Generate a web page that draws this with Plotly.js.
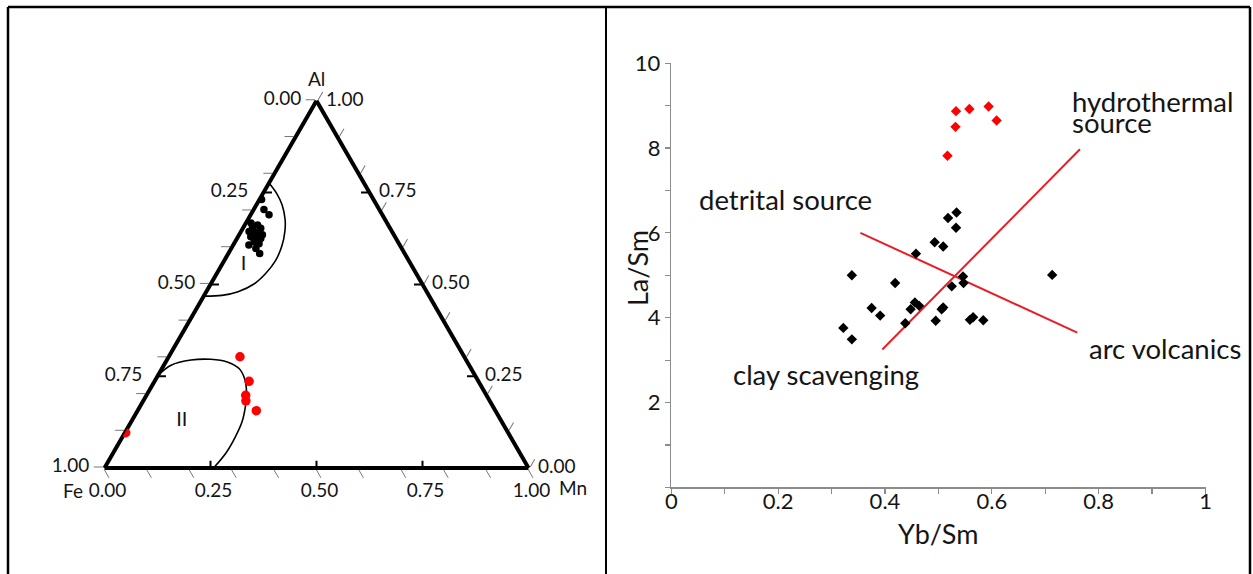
<!DOCTYPE html>
<html>
<head>
<meta charset="utf-8">
<script src="https://cdn.plot.ly/plotly-3.0.1.min.js"></script>
<style>
  html, body { margin: 0; padding: 0; background: #fff; }
  #chart { width: 1253px; height: 574px; }
</style>
</head>
<body>
<div id="chart"></div>
<script>
// ---------- Ternary Al–Fe–Mn (fractions; Fe = 1 - Al - Mn) ----------
const clusterAl = [0.731, 0.704, 0.690, 0.667, 0.658, 0.662, 0.653, 0.644, 0.644, 0.639,
                   0.635, 0.630, 0.625, 0.625, 0.616, 0.607, 0.611, 0.598, 0.584];
const clusterMn = [0.005, 0.024, 0.043, 0.012, 0.020, 0.030, 0.042, 0.019, 0.031, 0.045,
                   0.055, 0.030, 0.044, 0.056, 0.045, 0.037, 0.059, 0.058, 0.074];

const hydroTernAl = [0.303, 0.236, 0.198, 0.183, 0.156, 0.096];
const hydroTernMn = [0.168, 0.223, 0.234, 0.242, 0.280, 0.002];

// field boundaries I and II
const fieldIAl  = [0.776, 0.746, 0.716, 0.676, 0.645, 0.605, 0.564, 0.529, 0.501, 0.480, 0.470, 0.468];
const fieldIMn  = [0.000, 0.034, 0.061, 0.088, 0.103, 0.116, 0.121, 0.115, 0.102, 0.075, 0.042, 0.000];
const fieldIIAl = [0.252, 0.280, 0.294, 0.296, 0.289, 0.271, 0.243, 0.206, 0.169, 0.128, 0.087, 0.041, 0.000];
const fieldIIMn = [0.000, 0.017, 0.057, 0.103, 0.145, 0.182, 0.209, 0.232, 0.248, 0.261, 0.266, 0.266, 0.257];

const fieldNames   = ['I', 'II'];
const fieldNameAl  = [0.552, 0.127];
const fieldNameMn  = [0.052, 0.119];

const ternMinorTicks = [0, 0.1, 0.2, 0.3, 0.4, 0.5, 0.6, 0.7, 0.8, 0.9, 1];
const ternMajorTicks = [0, 0.25, 0.5, 0.75, 1];
const ternMajorText  = ['1.00', '0.75', '0.50', '0.25', '0.00'];
const ternInnerTicks = [0.25, 0.5, 0.75];
const alEdgeValues   = [0, 0.25, 0.5, 0.75, 1];

// ---------- Yb/Sm vs La/Sm ----------
const detritalYb = [0.338, 0.419, 0.322, 0.338, 0.375, 0.391, 0.438, 0.448, 0.456, 0.464,
                    0.458, 0.493, 0.509, 0.495, 0.506, 0.509, 0.518, 0.534, 0.533, 0.525,
                    0.546, 0.547, 0.559, 0.565, 0.584, 0.713];
const detritalLa = [5.00, 4.82, 3.76, 3.49, 4.23, 4.05, 3.87, 4.20, 4.36, 4.28,
                    5.51, 5.78, 5.68, 3.93, 4.20, 4.24, 6.35, 6.48, 6.12, 4.74,
                    4.97, 4.82, 3.95, 4.01, 3.94, 5.01];
const hydroYb = [0.533, 0.558, 0.594, 0.609, 0.532, 0.517];
const hydroLa = [8.87, 8.92, 8.98, 8.65, 8.50, 7.82];

const lineDetritalArcYb = [0.354, 0.760];
const lineDetritalArcLa = [6.00, 3.65];
const lineClayHydroYb   = [0.395, 0.765];
const lineClayHydroLa   = [3.25, 7.97];

const xTickVals = [0, 0.1, 0.2, 0.3, 0.4, 0.5, 0.6, 0.7, 0.8, 0.9, 1];
const xTickText = ['0', '', '0.2', '', '0.4', '', '0.6', '', '0.8', '', '1'];
const yTickVals = [0, 1, 2, 3, 4, 5, 6, 7, 8, 9, 10];
const yTickText = ['', '', '2', '', '4', '', '6', '', '8', '', '10'];

// ---------- helpers ----------
const W = 1253, H = 574;
const px = x => x / W;
const py = y => 1 - y / H;
const feOf = (al, mn) => al.map((a, i) => 1 - a - mn[i]);

const FONT = 'Lato, "Open Sans", sans-serif';
const INK = '#151515';
const RED = '#ec1c24';

// triangle placement (pixels): side length, centre x, base y
const side = 424, triH = side * Math.sqrt(3) / 2, cx = 316.5, baseY = 468;
const ternDomain = {
  x: [px(cx - side / 2), px(cx + side / 2)],
  y: [py(baseY), py(baseY - triH)]
};

// short inward ticks at the quarter marks of each edge
const inA = [], inB = [], inC = [];
const dIn = 0.02;
ternInnerTicks.forEach(v => {
  inA.push(1 - v, 1 - v, null); inB.push(v, v - dIn, null); inC.push(0, dIn, null);              // Fe edge
  inA.push(v, v, null);         inB.push(0, dIn, null);     inC.push(1 - v, 1 - v - dIn, null);  // Al edge
  inA.push(0, dIn, null);       inB.push(1 - v, 1 - v - dIn / 2, null); inC.push(v, v - dIn / 2, null); // Mn edge
});

const traces = [
  { type: 'scatterternary', subplot: 'ternary', mode: 'lines',
    a: inA, b: inB, c: inC, connectgaps: false,
    line: { color: '#000', width: 2 }, hoverinfo: 'skip' },
  { type: 'scatterternary', subplot: 'ternary', mode: 'lines',
    a: fieldIAl, b: feOf(fieldIAl, fieldIMn), c: fieldIMn,
    line: { color: '#000', width: 1.6, shape: 'spline' }, hoverinfo: 'skip' },
  { type: 'scatterternary', subplot: 'ternary', mode: 'lines',
    a: fieldIIAl, b: feOf(fieldIIAl, fieldIIMn), c: fieldIIMn,
    line: { color: '#000', width: 1.6, shape: 'spline' }, hoverinfo: 'skip' },
  { type: 'scatterternary', subplot: 'ternary', mode: 'markers',
    a: clusterAl, b: feOf(clusterAl, clusterMn), c: clusterMn,
    marker: { color: '#000', size: 7.5 } },
  { type: 'scatterternary', subplot: 'ternary', mode: 'markers',
    a: hydroTernAl, b: feOf(hydroTernAl, hydroTernMn), c: hydroTernMn,
    marker: { color: '#f00', size: 9.5 } },
  // field names
  { type: 'scatterternary', subplot: 'ternary2', mode: 'text',
    a: fieldNameAl, b: feOf(fieldNameAl, fieldNameMn), c: fieldNameMn,
    text: fieldNames, textposition: 'middle center',
    textfont: { family: FONT, size: 20, color: INK }, hoverinfo: 'skip' },
  // Al scale along the right edge
  { type: 'scatterternary', subplot: 'ternary2', mode: 'markers+text', cliponaxis: false,
    a: alEdgeValues, b: alEdgeValues.map(() => 0), c: alEdgeValues.map(v => 1 - v),
    text: alEdgeValues.map(v => v.toFixed(2)), textposition: 'middle right',
    marker: { size: 13.6, opacity: 0 },
    textfont: { family: FONT, size: 19, color: INK }, hoverinfo: 'skip' },

  { type: 'scatter', mode: 'lines', x: lineDetritalArcYb, y: lineDetritalArcLa,
    line: { color: RED, width: 2 }, hoverinfo: 'skip' },
  { type: 'scatter', mode: 'lines', x: lineClayHydroYb, y: lineClayHydroLa,
    line: { color: RED, width: 2 }, hoverinfo: 'skip' },
  { type: 'scatter', mode: 'markers', x: detritalYb, y: detritalLa,
    marker: { symbol: 'diamond', color: '#000', size: 8 } },
  { type: 'scatter', mode: 'markers', x: hydroYb, y: hydroLa,
    marker: { symbol: 'diamond', color: '#f00', size: 8 } }
];

const noTitle = { text: ' ', font: { size: 1 } };
const minorAxis = {
  min: 0, title: noTitle, showgrid: false, linecolor: '#000', linewidth: 4,
  ticks: 'outside', tickmode: 'array', tickvals: ternMinorTicks, ticklen: 9,
  tickwidth: 1, tickcolor: '#777', showticklabels: false, layer: 'below traces'
};
const labelAxis = {
  min: 0, title: noTitle, showgrid: false, showline: false,
  ticks: 'outside', tickmode: 'array', tickvals: ternMajorTicks, ticktext: ternMajorText,
  ticklen: 12, tickcolor: 'rgba(0,0,0,0)',
  tickfont: { family: FONT, size: 19, color: INK }
};

const axisLine = '#8c8c8c';
const txt = (text, x, y, size, extra) => Object.assign({
  text: text, xref: 'paper', yref: 'paper', x: px(x), y: py(y),
  xanchor: 'center', yanchor: 'middle', showarrow: false, font: { size: size }
}, extra || {});
const note = (text, x, y) => ({
  text: text, xref: 'x', yref: 'y', x: x, y: y, xanchor: 'left', yanchor: 'middle',
  showarrow: false, font: { size: 27.5 }
});

const layout = {
  width: W, height: H,
  margin: { l: 0, r: 0, t: 0, b: 0 },
  paper_bgcolor: '#fff',
  showlegend: false,
  hovermode: false,
  font: { family: FONT, color: INK },
  ternary: {
    domain: ternDomain, sum: 1, bgcolor: '#fff',
    aaxis: minorAxis, baxis: minorAxis, caxis: minorAxis
  },
  ternary2: {
    domain: ternDomain, sum: 1, bgcolor: 'rgba(0,0,0,0)',
    aaxis: labelAxis,
    baxis: Object.assign({}, labelAxis, { ticklen: 6 }),
    caxis: Object.assign({}, labelAxis, { showticklabels: false })
  },
  xaxis: {
    domain: [px(671.3), px(1205.5)], range: [0, 1], anchor: 'y',
    showline: true, linecolor: axisLine, linewidth: 1.5,
    showgrid: false, zeroline: false,
    ticks: 'outside', ticklen: 5, tickwidth: 1.2, tickcolor: axisLine,
    tickmode: 'array', tickvals: xTickVals, ticktext: xTickText,
    ticklabelstandoff: -11,
    tickfont: { family: FONT, size: 22, color: INK }
  },
  yaxis: {
    domain: [py(487.4), py(63.2)], range: [0, 10], anchor: 'x',
    showline: true, linecolor: axisLine, linewidth: 1.5,
    showgrid: false, zeroline: false,
    ticks: 'outside', ticklen: 5, tickwidth: 1.2, tickcolor: axisLine,
    tickmode: 'array', tickvals: yTickVals, ticktext: yTickText,
    tickfont: { family: FONT, size: 22, color: INK }
  },
  annotations: [
    txt('Al', 316.5, 78, 19),
    txt('Fe', 72.5, 490, 19),
    txt('Mn', 573, 487, 19),
    txt('La/Sm', 638, 268, 27, { textangle: -90 }),
    txt('Yb/Sm', 938, 533, 27),
    note('detrital source', 0.048, 6.78),
    note('clay scavenging', 0.112, 2.66),
    note('arc volcanics', 0.779, 3.27),
    note('hydrothermal', 0.746, 9.10),
    note('source', 0.746, 8.60)
  ],
  shapes: [
    { type: 'line', xref: 'paper', yref: 'paper', x0: px(8), x1: px(1250), y0: py(7), y1: py(7),
      line: { color: '#000', width: 2.5 } },
    { type: 'line', xref: 'paper', yref: 'paper', x0: px(8), x1: px(8), y0: py(7), y1: py(580),
      line: { color: '#000', width: 2.5 } },
    { type: 'line', xref: 'paper', yref: 'paper', x0: px(606), x1: px(606), y0: py(7), y1: py(580),
      line: { color: '#000', width: 2 } },
    { type: 'line', xref: 'paper', yref: 'paper', x0: px(1250), x1: px(1250), y0: py(7), y1: py(580),
      line: { color: '#000', width: 2.5 } }
  ]
};

Plotly.newPlot('chart', traces, layout, { staticPlot: true, displayModeBar: false });
</script>
</body>
</html>
